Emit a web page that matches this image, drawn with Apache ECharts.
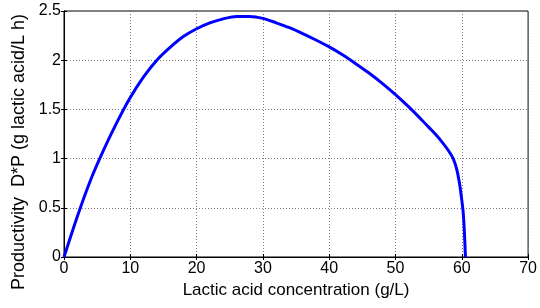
<!DOCTYPE html>
<html>
<head>
<meta charset="utf-8">
<script src="https://cdn.jsdelivr.net/npm/echarts@6/dist/echarts.min.js"></script>
<style>
    html, body { margin: 0; padding: 0; background: #fff; }
    #prod_figure { width: 540px; height: 308px; }
</style>
</head>
<body>
<div id="prod_figure"></div>
<script>
// lactic acid concentration (g/L)
var concentration = [0, 2, 4, 6, 8, 10, 12, 14, 16, 18, 20, 22, 24, 26, 28, 30, 32, 34, 36, 38, 40, 42, 44, 46, 48, 50, 52, 54, 55, 56, 57, 58, 58.7, 59.2, 59.6, 59.9, 60.2, 60.4, 60.55];
// productivity D*P (g lactic acid/L h)
var productivity = [0, 0.41, 0.78, 1.09, 1.37, 1.62, 1.83, 2.0, 2.13, 2.24, 2.32, 2.38, 2.42, 2.445, 2.445, 2.425, 2.38, 2.33, 2.27, 2.205, 2.135, 2.055, 1.965, 1.87, 1.765, 1.65, 1.525, 1.39, 1.32, 1.25, 1.17, 1.08, 1.0, 0.9, 0.77, 0.63, 0.46, 0.24, 0];

var xTicks = [0, 10, 20, 30, 40, 50, 60, 70];
var yTicks = [0, 0.5, 1, 1.5, 2, 2.5];

var prod_figure = echarts.init(document.getElementById('prod_figure'));

var font = 'Liberation Sans, Arial, sans-serif';
var points = concentration.map(function (c, i) { return [c, productivity[i]]; });

var gridLine = { show: true, lineStyle: { color: '#7f7f7f', type: [1, 2], width: 1 } };
var boxAxisLine = { show: true, lineStyle: { color: '#000' } };
var boxTick = { show: true, inside: true, length: 3, lineStyle: { color: '#000' } };

var option = {
    backgroundColor: '#fff',
    animation: false,
    grid: { left: 64, right: 8, top: 11, bottom: 51, show: true, borderColor: '#000', borderWidth: 1 },
    xAxis: [
        {
            type: 'value',
            min: xTicks[0], max: xTicks[xTicks.length - 1], interval: 10,
            name: 'Lactic acid concentration (g/L)',
            nameLocation: 'middle', nameGap: 24,
            nameTextStyle: { color: '#000', fontFamily: font, fontSize: 17 },
            axisLine: boxAxisLine,
            axisTick: boxTick,
            axisLabel: { color: '#000', fontFamily: font, fontSize: 16, margin: 4 },
            splitLine: gridLine
        },
        {
            type: 'value', position: 'top',
            min: xTicks[0], max: xTicks[xTicks.length - 1], interval: 10,
            axisLine: boxAxisLine,
            axisTick: boxTick,
            axisLabel: { show: false },
            splitLine: { show: false }
        }
    ],
    yAxis: [
        {
            type: 'value',
            min: yTicks[0], max: yTicks[yTicks.length - 1], interval: 0.5,
            name: 'Productivity  D*P (g lactic acid/L h)',
            nameLocation: 'middle', nameGap: 35,
            nameTextStyle: { color: '#000', fontFamily: font, fontSize: 18, padding: [0, 0, 0, -36] },
            axisLine: boxAxisLine,
            axisTick: boxTick,
            axisLabel: { color: '#000', fontFamily: font, fontSize: 16, margin: 3 },
            splitLine: gridLine
        },
        {
            type: 'value', position: 'right',
            min: yTicks[0], max: yTicks[yTicks.length - 1], interval: 0.5,
            axisLine: boxAxisLine,
            axisTick: boxTick,
            axisLabel: { show: false },
            splitLine: { show: false }
        }
    ],
    series: [
        {
            type: 'line',
            data: points,
            showSymbol: false,
            smooth: 0.3,
            lineStyle: { color: '#0000ff', width: 3 },
            z: 5
        }
    ]
};

prod_figure.setOption(option);
</script>
</body>
</html>
